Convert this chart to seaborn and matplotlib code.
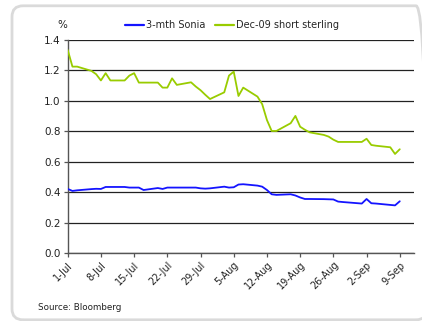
import matplotlib
matplotlib.use("Agg")
import matplotlib.pyplot as plt
from matplotlib.lines import Line2D
from matplotlib.patches import FancyBboxPatch
import pandas as pd
import seaborn as sns

# Business days, Jul-Sep 2009 (Aug 31 bank holiday excluded)
dates = [
    "2009-07-01", "2009-07-02", "2009-07-03", "2009-07-06", "2009-07-07",
    "2009-07-08", "2009-07-09", "2009-07-10", "2009-07-13", "2009-07-14",
    "2009-07-15", "2009-07-16", "2009-07-17", "2009-07-20", "2009-07-21",
    "2009-07-22", "2009-07-23", "2009-07-24", "2009-07-27", "2009-07-28",
    "2009-07-29", "2009-07-30", "2009-07-31", "2009-08-03", "2009-08-04",
    "2009-08-05", "2009-08-06", "2009-08-07", "2009-08-10", "2009-08-11",
    "2009-08-12", "2009-08-13", "2009-08-14", "2009-08-17", "2009-08-18",
    "2009-08-19", "2009-08-20", "2009-08-21", "2009-08-24", "2009-08-25",
    "2009-08-26", "2009-08-27", "2009-08-28", "2009-09-01", "2009-09-02",
    "2009-09-03", "2009-09-04", "2009-09-07", "2009-09-08", "2009-09-09",
]

sonia = [
    0.421, 0.408, 0.412, 0.420, 0.422,
    0.421, 0.434, 0.434, 0.434, 0.430,
    0.430, 0.430, 0.414, 0.427, 0.421,
    0.430, 0.430, 0.430, 0.430, 0.430,
    0.425, 0.423, 0.425, 0.436, 0.430,
    0.432, 0.450, 0.452, 0.443, 0.436,
    0.414, 0.386, 0.382, 0.386, 0.378,
    0.365, 0.355, 0.355, 0.354, 0.353,
    0.352, 0.338, 0.335, 0.325, 0.355,
    0.327, 0.325, 0.316, 0.313, 0.340,
]

short_sterling = [
    1.335, 1.225, 1.225, 1.197, 1.175,
    1.134, 1.182, 1.134, 1.134, 1.166,
    1.182, 1.120, 1.120, 1.120, 1.087,
    1.087, 1.148, 1.105, 1.122, 1.094,
    1.070, 1.040, 1.012, 1.056, 1.166,
    1.192, 1.032, 1.087, 1.028, 0.978,
    0.874, 0.802, 0.802, 0.853, 0.901,
    0.830, 0.810, 0.793, 0.776, 0.765,
    0.745, 0.730, 0.730, 0.730, 0.751,
    0.710, 0.705, 0.695, 0.651, 0.682,
]

series_names = ["3-mth Sonia", "Dec-09 short sterling"]
series_colors = ["#1414ff", "#99cc00"]

tick_dates = ["2009-07-01", "2009-07-08", "2009-07-15", "2009-07-22",
              "2009-07-29", "2009-08-05", "2009-08-12", "2009-08-19",
              "2009-08-26", "2009-09-02", "2009-09-09"]
tick_labels = ["1-Jul", "8-Jul", "15-Jul", "22-Jul", "29-Jul", "5-Aug",
               "12-Aug", "19-Aug", "26-Aug", "2-Sep", "9-Sep"]
y_ticks = [0.0, 0.2, 0.4, 0.6, 0.8, 1.0, 1.2, 1.4]

sns.set_theme(style="white")
plt.rcParams["font.family"] = ["Liberation Sans Narrow", "DejaVu Sans"]

df = pd.DataFrame({
    "date": pd.to_datetime(dates * 2),
    "value": sonia + short_sterling,
    "series": [series_names[0]] * len(dates) + [series_names[1]] * len(dates),
})

W, H = 422, 321
fig = plt.figure(figsize=(W / 100, H / 100), dpi=100)

# rounded panel frame, in inches; its right side runs off the image
frame = FancyBboxPatch((0.12, 0.012), 4.15, 3.14,
                       boxstyle="round,pad=0,rounding_size=0.11",
                       transform=fig.dpi_scale_trans, facecolor="none",
                       edgecolor="#dadada", linewidth=2.0, zorder=0)
fig.patches.append(frame)

left, right, bottom, top = 67.7, 414, 253, 40
ax = fig.add_axes([left / W, 1 - bottom / H, (right - left) / W, (bottom - top) / H])
ax.set_facecolor("none")
ax.set_zorder(2)

sns.lineplot(data=df, x="date", y="value", hue="series",
             palette=dict(zip(series_names, series_colors)),
             linewidth=1.3, ax=ax, legend=False, zorder=3)

ax.set_xlim(pd.Timestamp("2009-07-01"), pd.Timestamp("2009-09-12"))
ax.set_ylim(0, 1.4)
ax.set_yticks(y_ticks)
ax.set_yticklabels([f"{v:.1f}" for v in y_ticks], fontsize=7.5, color="#222222")
ax.set_xticks(pd.to_datetime(tick_dates))
ax.set_xticklabels(tick_labels, fontsize=7, rotation=45, ha="right",
                   rotation_mode="anchor", color="#222222")
ax.set_xlabel("")
ax.set_ylabel("")

ax.yaxis.grid(True, color="#222222", linewidth=0.9)
ax.xaxis.grid(False)
for s in ["top", "right"]:
    ax.spines[s].set_visible(False)
for s in ["left", "bottom"]:
    ax.spines[s].set_color("#555555")
    ax.spines[s].set_linewidth(1.0)
ax.tick_params(axis="both", which="major", direction="out", length=3,
               width=0.9, color="#555555", pad=2,
               left=True, bottom=True)

fig.text(62 / W, 1 - 25 / H, "%", ha="center", va="center",
         fontsize=7.5, color="#222222")

handles = [Line2D([0], [0], color=c, lw=1.6) for c in series_colors]
fig.legend(handles, series_names, loc="center", bbox_to_anchor=(232 / W, 1 - 25 / H),
           ncol=2, frameon=False, fontsize=7, handlelength=2.0,
           handletextpad=0.2, columnspacing=1.0, borderpad=0)

fig.text(38 / W, 1 - 307 / H, "Source: Bloomberg", ha="left", va="center",
         fontsize=6.3, color="#222222")

fig.savefig("out.png", dpi=100)
